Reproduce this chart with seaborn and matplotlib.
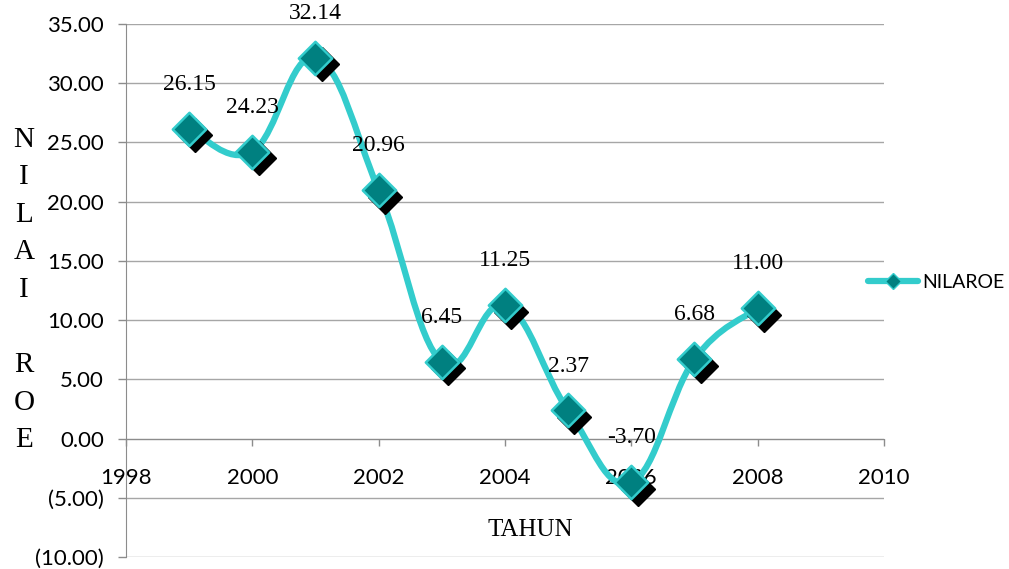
import numpy as np
import pandas as pd
import seaborn as sns
import matplotlib.pyplot as plt
from matplotlib.path import Path
from matplotlib.patches import PathPatch
from matplotlib.lines import Line2D
from matplotlib.transforms import ScaledTranslation

# data
tahun = [1999, 2000, 2001, 2002, 2003, 2004, 2005, 2006, 2007, 2008]
nilai_roe = [26.15, 24.23, 32.14, 20.96, 6.45, 11.25, 2.37, -3.70, 6.68, 11.00]
y_ticks = [-10, -5, 0, 5, 10, 15, 20, 25, 30, 35]
x_ticks = [1998, 2000, 2002, 2004, 2006, 2008, 2010]

df = pd.DataFrame({"Tahun": tahun, "ROE": nilai_roe})

LINE = "#33CCCC"
FILL = "#008080"
SANS = "Lato"
SERIF = "Liberation Serif"

sns.set_style("white")
plt.rcParams["text.color"] = "black"
fig = plt.figure(figsize=(10.09, 5.69), dpi=100)
ax = fig.add_axes([0.1249, 0.0211, 0.876 - 0.1249, 0.9578 - 0.0211])

ax.set_xlim(1998, 2010)
ax.set_ylim(-10, 35)

# horizontal grid lines
ax.set_yticks(y_ticks)
ax.grid(axis="y", color="#A6A6A6", linewidth=1)
ax.set_axisbelow(True)

# smooth curve (Excel style smoothed line) built as bezier segments
pts = np.column_stack([df["Tahun"], df["ROE"]]).astype(float)
verts = [tuple(pts[0])]
codes = [Path.MOVETO]
n = len(pts)
for i in range(n - 1):
    p0 = pts[max(i - 1, 0)]
    p1 = pts[i]
    p2 = pts[i + 1]
    p3 = pts[min(i + 2, n - 1)]
    c1 = p1 + (p2 - p0) / 5.0
    c2 = p2 - (p3 - p1) / 5.0
    verts += [tuple(c1), tuple(c2), tuple(p2)]
    codes += [Path.CURVE4] * 3
ax.add_patch(PathPatch(Path(verts, codes), facecolor="none", edgecolor=LINE,
                       linewidth=4.5, capstyle="round", zorder=3))

# marker shadow, then marker
shadow = ax.transData + ScaledTranslation(4.5 / 72, -4.5 / 72, fig.dpi_scale_trans)
ax.plot(df["Tahun"], df["ROE"], linestyle="none", marker="D", markersize=17,
        color="black", transform=shadow, zorder=4)
sns.scatterplot(data=df, x="Tahun", y="ROE", marker="D", s=17 ** 2,
                color=FILL, edgecolor=LINE, linewidth=1.8, zorder=5, ax=ax,
                legend=False)

# data labels
for x, y in zip(tahun, nilai_roe):
    ax.annotate(f"{y:.2f}", (x, y), xytext=(0, 32), textcoords="offset points",
                ha="center", va="center", fontsize=17, family=SERIF,
                color="black", zorder=6, annotation_clip=False)

# axes: x axis crosses at zero
sns.despine(ax=ax, top=True, right=True)
ax.spines["bottom"].set_position(("data", 0))
ax.spines["bottom"].set_color("#8C8C8C")
ax.spines["left"].set_color("#8C8C8C")
ax.set_xticks(x_ticks)
ax.set_xticklabels([str(t) for t in x_ticks], family=SANS, fontsize=16)
ax.set_yticklabels([f"({abs(v):.2f})" if v < 0 else f"{v:.2f}" for v in y_ticks],
                   family=SANS, fontsize=16)
ax.tick_params(axis="x", direction="out", length=5, width=1, color="#8C8C8C",
               pad=16, bottom=True, labelcolor="black")
ax.tick_params(axis="y", direction="out", length=6, width=1, color="#8C8C8C",
               pad=10, left=True, labelcolor="black")
ax.set_xlabel("")
ax.set_ylabel("")

# axis titles
fig.text(530 / 1009, 1 - 530 / 569, "TAHUN", family=SERIF, fontsize=18,
         ha="center", va="center")
fig.text(24 / 1009, 1 - 290 / 569, "N\nI\nL\nA\nI\n\nR\nO\nE", family=SERIF,
         fontsize=21, ha="center", va="center", linespacing=1.58)

# legend
handle = Line2D([], [], color=LINE, linewidth=4.5, marker="D", markersize=8,
                markerfacecolor=FILL, markeredgecolor=LINE, solid_capstyle="round")
fig.legend([handle], ["NILAROE"], loc="center left",
           bbox_to_anchor=(850 / 1009, 1 - 282 / 569), frameon=False,
           prop={"family": SANS, "size": 14}, handlelength=2.6,
           handletextpad=0.2)

fig.savefig("out.png", dpi=100)
